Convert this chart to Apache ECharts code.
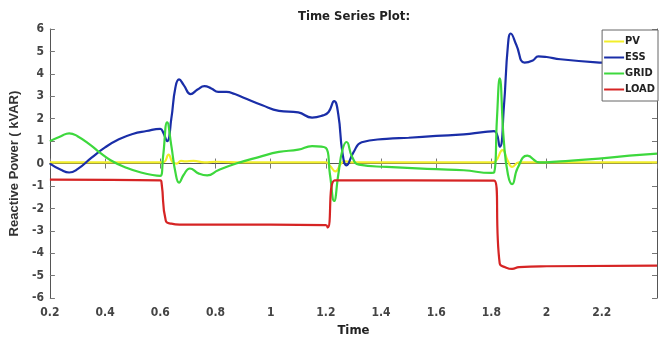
<!DOCTYPE html>
<html>
<head>
<meta charset="utf-8">
<script src="https://cdn.jsdelivr.net/npm/echarts@6/dist/echarts.min.js"></script>
<style>
html, body { margin: 0; padding: 0; background: #fff; }
#chart { width: 670px; height: 342px; }
</style>
</head>
<body>
<div id="chart"></div>
<script>
// values, [time, kVAR]
const pv = [
  [0.2, 0.05], [0.6, 0.05], [0.615, 0.08], [0.63, 0.4], [0.645, 0.05], [0.66, 0.0],
  [0.675, 0.12], [0.69, 0.1], [0.72, 0.12], [0.76, 0.05], [0.8, 0.08], [0.9, 0.05],
  [1.2, 0.05], [1.215, -0.1], [1.235, -0.35], [1.255, 0.0], [1.27, 0.1], [1.3, 0.05],
  [1.8, 0.05], [1.815, 0.1], [1.84, 0.6], [1.86, 0.1], [1.875, -0.15], [1.9, 0.05], [2.4, 0.05]
];
const ess = [
  [0.2, 0.0], [0.24, -0.28], [0.27, -0.4], [0.3, -0.25], [0.35, 0.25], [0.4, 0.72],
  [0.45, 1.08], [0.5, 1.32], [0.55, 1.45], [0.6, 1.55], [0.61, 1.4], [0.625, 1.0],
  [0.64, 2.0], [0.655, 3.4], [0.668, 3.75], [0.685, 3.5], [0.71, 3.1], [0.735, 3.3],
  [0.76, 3.45], [0.785, 3.35], [0.81, 3.2], [0.84, 3.2], [0.87, 3.1], [0.9, 2.95],
  [0.97, 2.6], [1.03, 2.35], [1.1, 2.28], [1.15, 2.05], [1.19, 2.15], [1.21, 2.3],
  [1.23, 2.78], [1.245, 2.2], [1.26, 0.5], [1.275, -0.08], [1.3, 0.5], [1.33, 0.95],
  [1.42, 1.1], [1.5, 1.15], [1.6, 1.23], [1.7, 1.3], [1.77, 1.4], [1.81, 1.45],
  [1.83, 0.75], [1.845, 2.5], [1.86, 5.3], [1.87, 5.8], [1.89, 5.3], [1.92, 4.5],
  [1.95, 4.6], [1.97, 4.78], [2.0, 4.75], [2.05, 4.65], [2.2, 4.5], [2.3, 4.45], [2.4, 4.4]
];
const grid = [
  [0.2, 1.0], [0.24, 1.22], [0.27, 1.35], [0.3, 1.22], [0.35, 0.8], [0.38, 0.5],
  [0.42, 0.15], [0.47, -0.15], [0.53, -0.4], [0.6, -0.55], [0.61, 0.3], [0.625, 1.84],
  [0.64, 0.8], [0.655, -0.4], [0.668, -0.85], [0.685, -0.5], [0.707, -0.22], [0.74, -0.45],
  [0.77, -0.53], [0.81, -0.3], [0.875, 0.0], [0.96, 0.3], [1.03, 0.52], [1.1, 0.62],
  [1.15, 0.78], [1.2, 0.7], [1.215, -0.5], [1.23, -1.67], [1.245, -0.5], [1.26, 0.6],
  [1.275, 0.96], [1.295, 0.3], [1.32, -0.05], [1.42, -0.15], [1.6, -0.25], [1.7, -0.3],
  [1.8, -0.42], [1.81, -0.4], [1.82, 2.0], [1.83, 3.8], [1.845, 1.0], [1.86, -0.5],
  [1.875, -0.92], [1.895, -0.2], [1.93, 0.35], [1.975, 0.05], [2.05, 0.1], [2.19, 0.22],
  [2.3, 0.35], [2.4, 0.44]
];
const load = [
  [0.2, -0.72], [0.6, -0.75], [0.605, -0.9], [0.62, -2.55], [0.64, -2.68], [0.67, -2.72],
  [0.8, -2.72], [1.0, -2.72], [1.2, -2.75], [1.207, -2.85], [1.232, -0.75], [1.5, -0.75],
  [1.81, -0.76], [1.83, -4.45], [1.85, -4.62], [1.875, -4.7], [1.9, -4.62], [2.0, -4.58],
  [2.4, -4.55]
];
const seriesNames = ['PV', 'ESS', 'GRID', 'LOAD'];
const seriesColors = ['#f2ee2a', '#1a2ea8', '#3dd83d', '#d62424'];

const chart = echarts.init(document.getElementById('chart'));

const narrow = '"Liberation Sans Narrow", "DejaVu Sans Condensed", "Liberation Sans", sans-serif';
const labelFont = { fontFamily: narrow, fontWeight: 'bold', fontSize: 12, color: '#444' };
const frameLine = { show: true, lineStyle: { color: '#555', width: 1 } };
const inTick = { show: true, inside: true, length: 5, lineStyle: { color: '#777' } };

chart.setOption({
  animation: false,
  title: {
    text: 'Time Series Plot:',
    left: 349,
    textAlign: 'center',
    top: 5,
    textStyle: { fontFamily: narrow, fontWeight: 'bold', fontSize: 13, color: '#222' }
  },
  legend: {
    data: seriesNames,
    orient: 'vertical',
    right: 12,
    top: 30,
    icon: 'rect',
    itemWidth: 20,
    itemHeight: 2,
    itemGap: 5,
    padding: [6, 3, 6, 2],
    backgroundColor: '#fff',
    borderColor: '#666',
    borderWidth: 1,
    borderRadius: 0,
    textStyle: { fontFamily: narrow, fontWeight: 'bold', fontSize: 11, color: '#222', padding: [0, 0, 0, -4] }
  },
  grid: { left: 41, right: 13, top: 29, bottom: 42 },
  xAxis: [{
    type: 'value', min: 0.2, max: 2.4, interval: 0.2,
    name: 'Time', nameLocation: 'middle', nameGap: 24,
    nameTextStyle: { fontFamily: narrow, fontWeight: 'bold', fontSize: 13, color: '#222' },
    axisLine: frameLine, axisTick: inTick, splitLine: { show: false },
    axisLabel: Object.assign({ margin: 9, showMaxLabel: false,
      formatter: v => (Math.round(v * 10) / 10).toString() }, labelFont)
  }, {
    type: 'value', min: 0.2, max: 2.4, interval: 0.2, position: 'top',
    axisLine: frameLine, axisTick: inTick, axisLabel: { show: false }, splitLine: { show: false }
  }],
  yAxis: [{
    type: 'value', min: -6, max: 6, interval: 1,
    name: 'Reactive Power ( kVAR)', nameLocation: 'middle', nameGap: 17,
    nameTextStyle: { fontFamily: 'Liberation Sans', fontWeight: 'bold', fontSize: 13, color: '#333' },
    axisLine: frameLine, axisTick: inTick, splitLine: { show: false },
    axisLabel: Object.assign({ margin: 6 }, labelFont)
  }, {
    type: 'value', min: -6, max: 6, interval: 1, position: 'right',
    axisLine: frameLine, axisTick: inTick, axisLabel: { show: false }, splitLine: { show: false }
  }],
  series: [pv, ess, grid, load].map((d, i) => ({
    name: seriesNames[i],
    type: 'line',
    data: d,
    showSymbol: false,
    symbol: 'none',
    smooth: 0.5,
    color: seriesColors[i],
    lineStyle: { width: 2.2, color: seriesColors[i] }
  }))
});
</script>
</body>
</html>
